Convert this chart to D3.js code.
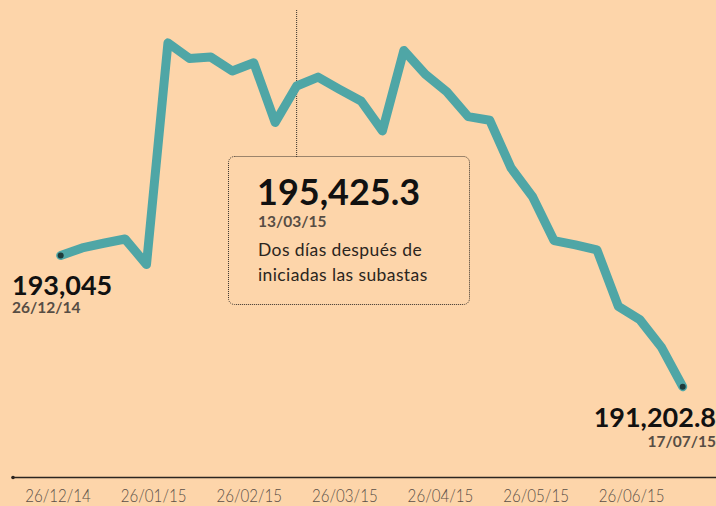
<!DOCTYPE html>
<html>
<head>
<meta charset="utf-8">
<script src="https://cdn.jsdelivr.net/npm/d3@7"></script>
<style>
  body { margin: 0; background: #fdd5aa; }
  svg { display: block; }
</style>
</head>
<body>
<div id="chart"></div>
<script>

// weekly values, 26/12/14 - 17/07/15
const dates = ["26/12/14","02/01/15","09/01/15","16/01/15","23/01/15","30/01/15","06/02/15","13/02/15",
	"20/02/15","27/02/15","06/03/15","13/03/15","20/03/15","27/03/15","03/04/15","10/04/15","17/04/15",
	"24/04/15","01/05/15","08/05/15","15/05/15","22/05/15","29/05/15","05/06/15","12/06/15","19/06/15",
	"26/06/15","03/07/15","10/07/15","17/07/15"]
const values = [193045, 193151, 193217, 193277, 192919, 196031, 195813, 195831,
	195635, 195751, 194912, 195425.3, 195551, 195379, 195215, 194795, 195925,
	195589, 195345, 194995, 194945, 194273, 193871, 193255, 193195, 193125,
	192331, 192145, 191761, 191202.8]
const tickLabels = ["26/12/14","26/01/15","26/02/15","26/03/15","26/04/15","26/05/15","26/06/15"]
const note = ["Dos días después de", "iniciadas las subastas"]
const highlight = 11

class LineChart {

	constructor(parentElement, dates, values){
		this.parentElement = parentElement
		this.dates = dates
		this.values = values
		this.initVis()
	}

	initVis(){
		let vis = this
		vis.width = 716
		vis.height = 506
		vis.parseDate = d3.timeParse("%d/%m/%y")
		vis.format = d3.format(",")

		vis.data = vis.dates.map(function(d, i){
			return {date: vis.parseDate(d), label: d, value: vis.values[i]}
		})

		vis.svg = d3.select(vis.parentElement).append("svg")
			.attr("width", vis.width)
			.attr("height", vis.height)

		vis.svg.append("rect")
			.attr("width", vis.width)
			.attr("height", vis.height)
			.attr("fill", "#fdd5aa")

		vis.x = d3.scaleTime()
			.domain(d3.extent(vis.data, d => d.date))
			.range([60.7, 682.7])

		vis.y = d3.scaleLinear()
			.domain([191202.8, 195425.3])
			.range([386.7, 86])

		// tick labels are evenly spaced in the original
		vis.xTicks = d3.scalePoint()
			.domain(tickLabels)
			.range([57.5, 631.2])

		vis.wrangleData()
	}

	wrangleData(){
		let vis = this
		vis.first = vis.data[0]
		vis.last = vis.data[vis.data.length - 1]
		vis.mark = vis.data[highlight]
		vis.updateVis()
	}

	updateVis(){
		let vis = this
		let font = "Lato, sans-serif"

		// axis
		let axis = vis.svg.append("g")
			.attr("transform", "translate(0,477.5)")
			.call(d3.axisBottom(vis.xTicks).tickSize(0).tickPadding(12))
		axis.select(".domain").remove()
		axis.selectAll("text")
			.attr("font-family", font)
			.attr("font-weight", 300)
			.attr("font-size", 18)
			.attr("fill", "#5b5047")
			.attr("transform", "scale(0.84,1)")
		vis.svg.append("line")
			.attr("x1", 13).attr("x2", vis.width)
			.attr("y1", 477.5).attr("y2", 477.5)
			.attr("stroke", "#2b2520")
			.attr("stroke-width", 1.3)
		vis.svg.append("circle")
			.attr("cx", 13).attr("cy", 477.5).attr("r", 1.8)
			.attr("fill", "#2b2520")

		// vertical pointer to the box
		vis.svg.append("line")
			.attr("x1", vis.x(vis.mark.date)).attr("x2", vis.x(vis.mark.date))
			.attr("y1", 10).attr("y2", 157)
			.attr("stroke", "#3a332d")
			.attr("stroke-width", 1)
			.attr("stroke-dasharray", "1,1")

		// line
		let line = d3.line()
			.x(d => vis.x(d.date))
			.y(d => vis.y(d.value))

		vis.svg.append("path")
			.datum(vis.data)
			.attr("d", line)
			.attr("fill", "none")
			.attr("stroke", "#4fa6a6")
			.attr("stroke-width", 9)
			.attr("stroke-linejoin", "round")
			.attr("stroke-linecap", "round")

		vis.svg.selectAll(".end")
			.data([vis.first, vis.last])
			.enter()
			.append("circle")
			.attr("class", "end")
			.attr("cx", d => vis.x(d.date))
			.attr("cy", d => vis.y(d.value))
			.attr("r", 3)
			.attr("fill", "#1f3b3b")

		// annotation box
		vis.svg.append("rect")
			.attr("x", 228.5).attr("y", 156.5)
			.attr("width", 241).attr("height", 148)
			.attr("rx", 6)
			.attr("fill", "none")
			.attr("stroke", "#3a332d")
			.attr("stroke-width", 1)
			.attr("stroke-dasharray", "1,1")

		vis.svg.append("text")
			.attr("x", 257).attr("y", 205)
			.attr("font-family", font).attr("font-weight", 700)
			.attr("font-size", 36).attr("fill", "#111")
			.text(vis.format(vis.mark.value))
		vis.svg.append("text")
			.attr("x", 258).attr("y", 227)
			.attr("font-family", font).attr("font-weight", 700)
			.attr("font-size", 15.5).attr("fill", "#574d44")
			.text(vis.mark.label)
		vis.svg.selectAll(".note")
			.data(note)
			.enter()
			.append("text")
			.attr("class", "note")
			.attr("x", 258)
			.attr("y", (d, i) => 256 + i * 24.5)
			.attr("font-family", font)
			.attr("font-size", 17.5).attr("fill", "#2b2520")
			.attr("letter-spacing", 0.4)
			.text(d => d)

		// start label
		vis.svg.append("text")
			.attr("x", 12).attr("y", 295)
			.attr("font-family", font).attr("font-weight", 700)
			.attr("font-size", 27).attr("fill", "#111")
			.text(vis.format(vis.first.value))
		vis.svg.append("text")
			.attr("x", 12).attr("y", 313)
			.attr("font-family", font).attr("font-weight", 700)
			.attr("font-size", 15.5).attr("fill", "#574d44")
			.text(vis.first.label)

		// end label
		vis.svg.append("text")
			.attr("x", 716).attr("y", 427)
			.attr("text-anchor", "end")
			.attr("font-family", font).attr("font-weight", 700)
			.attr("font-size", 27).attr("fill", "#111")
			.text(vis.format(vis.last.value))
		vis.svg.append("text")
			.attr("x", 716).attr("y", 447)
			.attr("text-anchor", "end")
			.attr("font-family", font).attr("font-weight", 700)
			.attr("font-size", 15.5).attr("fill", "#574d44")
			.text(vis.last.label)
	}
}

new LineChart("#chart", dates, values)
</script>
</body>
</html>
